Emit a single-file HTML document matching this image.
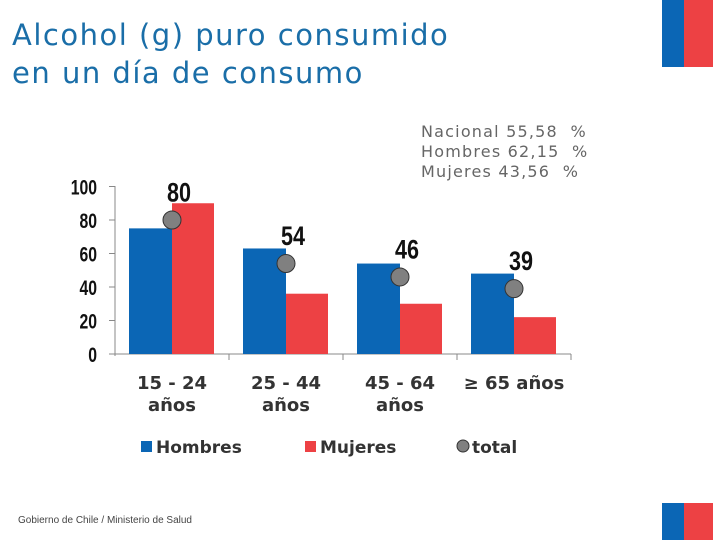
<!DOCTYPE html>
<html><head><meta charset="utf-8"><style>
body{margin:0;width:720px;height:540px;background:#fff;overflow:hidden;position:relative;font-family:"Liberation Sans",sans-serif}
.t{position:absolute;left:12px;top:16px;color:#1a6ea8;font-family:"DejaVu Sans",sans-serif;font-size:29px;line-height:38px;letter-spacing:1.5px}
.st{position:absolute;left:421px;top:122px;font-family:"DejaVu Sans",sans-serif;font-size:16px;line-height:20px;color:#666;white-space:pre;letter-spacing:1.2px}
.ft{position:absolute;left:18px;top:515px;font-size:10px;color:#444}
</style></head><body>
<div class="t">Alcohol (g) puro consumido<br>en un día de consumo</div>
<div class="st">Nacional 55,58  %
Hombres 62,15  %
Mujeres 43,56  %</div>
<div style="position:absolute;left:662px;top:0;width:22px;height:67px;background:#0b66b5"></div>
<div style="position:absolute;left:684px;top:0;width:29px;height:67px;background:#ed4144"></div>
<div style="position:absolute;left:662px;top:503px;width:22px;height:37px;background:#0b66b5"></div>
<div style="position:absolute;left:684px;top:503px;width:29px;height:37px;background:#ed4144"></div>
<div class="ft">Gobierno de Chile / Ministerio de Salud</div>
<svg id="c" width="720" height="540" style="position:absolute;left:0;top:0"></svg>
<script>
const categories=[["15 - 24","años"],["25 - 44","años"],["45 - 64","años"],["≥ 65 años",""]];
const hombres=[75,63,54,48];
const mujeres=[90,36,30,22];
const total=[80,54,46,39];
const yTicks=[0,20,40,60,80,100];
const NS="http://www.w3.org/2000/svg",svg=document.getElementById('c');
const y=v=>354-v*1.675, x0=115, gw=114;
const DJ='DejaVu Sans, sans-serif';
function mk(t,a,txt){const e=document.createElementNS(NS,t);for(const k in a)e.setAttribute(k,a[k]);if(txt!==undefined)e.textContent=txt;svg.appendChild(e);return e;}
let e=mk('line',{x1:115,y1:186,x2:115,y2:356,stroke:'#888'});

e=mk('line',{x1:115,y1:354,x2:571,y2:354,stroke:'#888'});

yTicks.forEach(v=>{
 e=mk('line',{x1:109,y1:y(v),x2:115,y2:y(v),stroke:'#888'});
 
 e=mk('text',{x:97/0.75,y:y(v)+8,'text-anchor':'end','font-size':21,'font-weight':'bold',fill:'#111',transform:'scale(0.75,1)'},v);
 
});
categories.forEach((c,i)=>{
 const gx=x0+gw*i;
 e=mk('line',{x1:gx+gw,y1:354,x2:gx+gw,y2:360,stroke:'#888'});
 
 e=mk('rect',{x:gx+14,y:y(hombres[i]),width:43,height:354-y(hombres[i]),fill:'#0b66b5'});
 
 e=mk('rect',{x:gx+57,y:y(mujeres[i]),width:42,height:354-y(mujeres[i]),fill:'#ed4144'});
 
 e=mk('circle',{cx:gx+57,cy:y(total[i]),r:9,fill:'#808080',stroke:'#333','stroke-width':1});
 
 e=mk('text',{x:(gx+64)/0.8,y:y(total[i]+17)+10,'text-anchor':'middle','font-size':27,'font-weight':'bold',fill:'#111',transform:'scale(0.8,1)'},total[i]);
 
 e=mk('text',{x:gx+57,y:389,'text-anchor':'middle','font-size':18,'font-weight':'bold',fill:'#333','font-family':DJ},c[0]);
 
 if(c[1]){e=mk('text',{x:gx+57,y:411,'text-anchor':'middle','font-size':18,'font-weight':'bold',fill:'#333','font-family':DJ},c[1]);
 }
});
const leg=[['Hombres','#0b66b5',141,'r'],['Mujeres','#ed4144',305,'r'],['total','#808080',457,'c']];
leg.forEach(l=>{
 if(l[3]=='r'){e=mk('rect',{x:l[2],y:441,width:11,height:11,fill:l[1]});}
 else{e=mk('circle',{cx:l[2]+6,cy:446,r:6,fill:l[1],stroke:'#333'});}
 
 e=mk('text',{x:l[2]+15,y:453,'font-size':17,'font-weight':'bold',fill:'#333','font-family':DJ},l[0]);
 
});
</script>
</body></html>
